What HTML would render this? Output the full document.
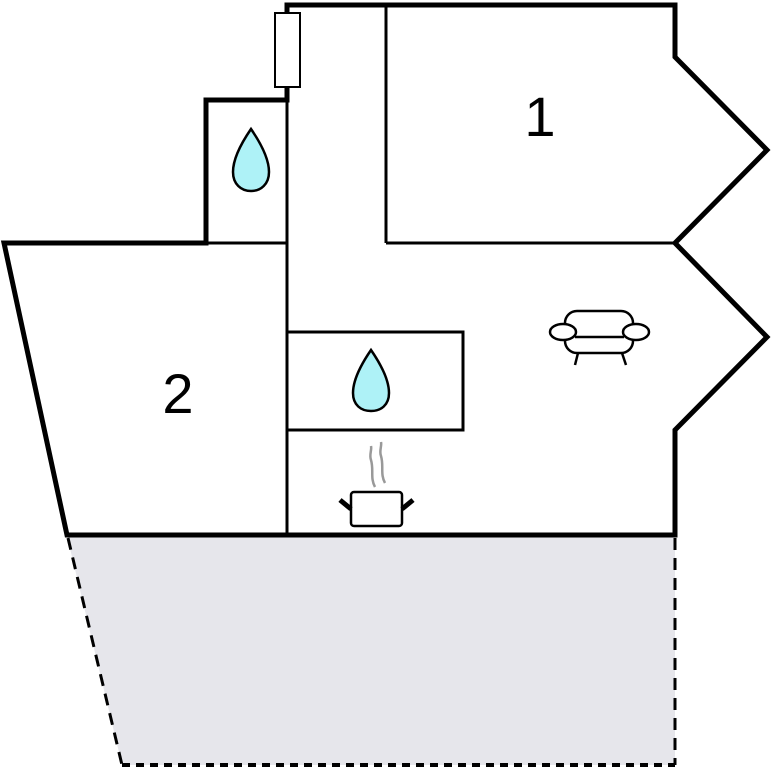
<!DOCTYPE html>
<html><head><meta charset="utf-8"><style>
html,body{margin:0;padding:0;background:#fff;width:773px;height:768px;overflow:hidden}
svg{display:block}
text{font-family:"Liberation Sans",sans-serif}
</style></head><body>
<svg width="773" height="768" viewBox="0 0 773 768" xmlns="http://www.w3.org/2000/svg">
<polygon points="67,536 675,536 675,765 122,765" fill="#e6e6eb"/>
<line x1="68" y1="538" x2="122" y2="765" stroke="#000" stroke-width="3" stroke-dasharray="12,8"/>
<line x1="675" y1="538" x2="675" y2="765" stroke="#000" stroke-width="3" stroke-dasharray="12,8"/>
<line x1="122" y1="765" x2="675" y2="765" stroke="#000" stroke-width="4" stroke-dasharray="8,6"/>
<polygon points="287,5 675,5 675,57 767,150 675,243 767,337 675,430 675,535 67,535 4,243 206,243 206,100 287,100" fill="#fff" stroke="#000" stroke-width="5" stroke-linejoin="miter"/>
<g stroke="#000" stroke-width="3" fill="none">
<line x1="287" y1="100" x2="287" y2="535"/>
<line x1="386" y1="5" x2="386" y2="243"/>
<line x1="386" y1="243" x2="675" y2="243"/>
<line x1="206" y1="243" x2="287" y2="243"/>
<rect x="287" y="332" width="176" height="98"/>
</g>
<rect x="275" y="13" width="25" height="74" fill="#fff" stroke="#000" stroke-width="2"/>
<path d="M251,129 C262,145 269,160 269,172 C269,184 261,191 251,191 C241,191 233,184 233,172 C233,160 240,145 251,129 Z" fill="#aef2f7" stroke="#000" stroke-width="2.5"/>
<path d="M371,350 C382,366 389,381 389,393 C389,405 381,411 371,411 C361,411 353,405 353,393 C353,381 360,366 371,350 Z" fill="#aef2f7" stroke="#000" stroke-width="2.5"/>
<g stroke="#000" stroke-width="2.5" fill="#fff">
<rect x="565" y="311" width="68" height="42" rx="12"/>
<line x1="575" y1="337" x2="624" y2="337"/>
<ellipse cx="563" cy="332" rx="13" ry="8"/>
<ellipse cx="636" cy="332" rx="13" ry="8"/>
<line x1="578" y1="353" x2="575" y2="365"/>
<line x1="622" y1="353" x2="626" y2="365"/>
</g>
<g stroke="#999" stroke-width="2.5" fill="none">
<path d="M375,487 C370,478 374,470 371,460 C369,455 372,450 371,446"/>
<path d="M385,483 C380,474 384,466 381,456 C379,451 382,446 381,442"/>
</g>
<g stroke="#000" fill="#fff">
<rect x="351" y="492" width="51" height="34" rx="3" stroke-width="2.5"/>
<line x1="340" y1="500" x2="351" y2="509" stroke-width="5"/>
<line x1="413" y1="500" x2="402" y2="509" stroke-width="5"/>
</g>
<text x="540" y="136" font-size="56" text-anchor="middle">1</text>
<text x="178" y="413" font-size="56" text-anchor="middle">2</text>
</svg>
</body></html>
